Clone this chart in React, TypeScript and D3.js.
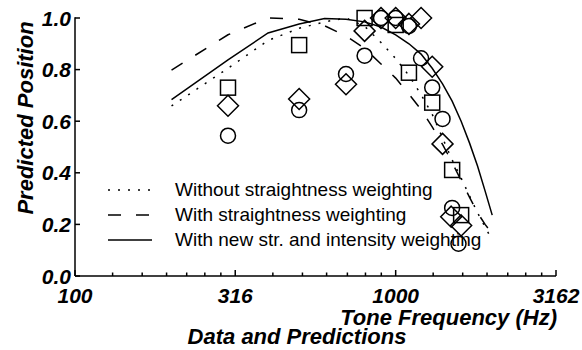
import * as d3 from "d3";

// model curves, sampled every 100 Hz
const curveFreq = [200, 300, 400, 500, 600, 700, 800, 900, 1000, 1100, 1200, 1300, 1400, 1500, 1600, 1700, 1800, 1900, 2000];
const withoutStraight = [0.659, 0.805, 0.913, 0.96, 0.985, 1.0, 0.968, 0.905, 0.843, 0.777, 0.703, 0.627, 0.535, 0.45, 0.38, 0.31, 0.245, 0.19, 0.14];
const withStraight = [0.798, 0.935, 1.0, 0.995, 0.97, 0.93, 0.882, 0.822, 0.767, 0.705, 0.645, 0.578, 0.51, 0.44, 0.37, 0.305, 0.245, 0.2, 0.165];
const withIntensity = [0.684, 0.838, 0.942, 0.977, 0.998, 0.995, 0.985, 0.965, 0.935, 0.9, 0.86, 0.805, 0.745, 0.678, 0.6, 0.515, 0.426, 0.33, 0.236];

// data points
const circleFreq = [300, 500, 700, 800, 900, 1000, 1100, 1200, 1300, 1400, 1500, 1570];
const circleVal = [0.544, 0.643, 0.783, 0.854, 1.0, 1.0, 0.969, 0.844, 0.731, 0.609, 0.264, 0.125];
const squareFreq = [300, 500, 800, 1000, 1100, 1300, 1500, 1600];
const squareVal = [0.73, 0.895, 1.0, 0.973, 0.788, 0.672, 0.411, 0.236];
const diamondFreq = [300, 500, 700, 800, 900, 1000, 1100, 1200, 1300, 1400, 1490, 1600];
const diamondVal = [0.66, 0.686, 0.743, 0.95, 1.0, 1.0, 0.977, 1.0, 0.811, 0.512, 0.23, 0.196];

const majorTicks = [100, 316, 1000, 3162];
const majorLabels = ["100", "316", "1000", "3162"];
const minorTicks = [131, 162, 193, 223, 254, 285, 414, 512, 609, 707, 805, 902, 1309, 1618, 1927, 2236, 2544, 2853];
const yTicks = [0, 0.2, 0.4, 0.6, 0.8, 1.0];

const legendLabels = [
  "Without straightness weighting",
  "With straightness weighting",
  "With new str. and intensity weighting",
];
const dashes = ["2,8", "13,15", null];

const font = "'Liberation Sans', Arial, Helvetica, sans-serif";

export default function App() {
  const x = d3.scaleLog().domain([100, 3162]).range([75, 556]);
  const y = d3.scaleLinear().domain([0, 1]).range([276, 18]);

  const line = d3
    .line<number>()
    .x((_, i) => x(curveFreq[i]))
    .y((d) => y(d));

  const series = [withoutStraight, withStraight, withIntensity];
  const sq = 7.5;
  const dm = 10.5;

  return (
    <svg width={582} height={350} style={{ position: "absolute", left: 0, top: 0, background: "#fff" }}>
      {/* axes */}
      <g stroke="#000" strokeWidth={1.5} fill="none">
        <line x1={x(100)} x2={x(100)} y1={y(0)} y2={y(1) - 0.75} />
        <line x1={x(100)} x2={x(3162)} y1={y(0)} y2={y(0)} />
        {yTicks.map((t) => (
          <line key={t} x1={x(100)} x2={x(100) + 5} y1={y(t)} y2={y(t)} />
        ))}
        {majorTicks.map((t) => (
          <line key={t} x1={x(t)} x2={x(t)} y1={y(0)} y2={y(0) - 6} />
        ))}
        {minorTicks.map((t) => (
          <line key={t} x1={x(t)} x2={x(t)} y1={y(0)} y2={y(0) - 3.5} />
        ))}
      </g>

      {/* tick labels */}
      <g fontFamily={font} fontWeight="bold" fontStyle="italic" fontSize={21} fill="#000">
        {yTicks.map((t) => (
          <text key={t} x={71} y={y(t) + 7.5} textAnchor="end">
            {t.toFixed(1)}
          </text>
        ))}
        {majorTicks.map((t, i) => (
          <text key={t} x={x(t)} y={303} textAnchor="middle">
            {majorLabels[i]}
          </text>
        ))}
      </g>

      {/* axis titles */}
      <g fontFamily={font} fontWeight="bold" fontStyle="italic" fontSize={22} fill="#000">
        <text x={557} y={325} textAnchor="end">Tone Frequency (Hz)</text>
        <text x={297} y={344} textAnchor="middle">Data and Predictions</text>
        <text transform="translate(33,118) rotate(-90)" textAnchor="middle">Predicted Position</text>
      </g>

      {/* model curves */}
      <g fill="none" stroke="#000" strokeWidth={1.5}>
        {series.map((s, i) => (
          <path key={i} d={line(s) || ""} strokeDasharray={dashes[i] || undefined} />
        ))}
      </g>

      {/* data markers */}
      <g fill="none" stroke="#000" strokeWidth={1.5}>
        {circleFreq.map((f, i) => (
          <circle key={"c" + i} cx={x(f)} cy={y(circleVal[i])} r={7.5} />
        ))}
        {squareFreq.map((f, i) => (
          <rect key={"s" + i} x={x(f) - sq} y={y(squareVal[i]) - sq} width={sq * 2} height={sq * 2} />
        ))}
        {diamondFreq.map((f, i) => {
          const cx = x(f);
          const cy = y(diamondVal[i]);
          return (
            <path key={"d" + i} d={`M${cx},${cy - dm}L${cx + dm},${cy}L${cx},${cy + dm}L${cx - dm},${cy}Z`} />
          );
        })}
      </g>

      {/* legend */}
      <g>
        {legendLabels.map((l, i) => (
          <g key={l} transform={`translate(0,${190 + i * 25})`}>
            <line x1={108} x2={152} y1={0} y2={0} stroke="#000" strokeWidth={1.5} strokeDasharray={dashes[i] || undefined} />
            <text x={175} y={6} fontFamily={font} fontSize={19} fill="#000">
              {l}
            </text>
          </g>
        ))}
      </g>
    </svg>
  );
}
